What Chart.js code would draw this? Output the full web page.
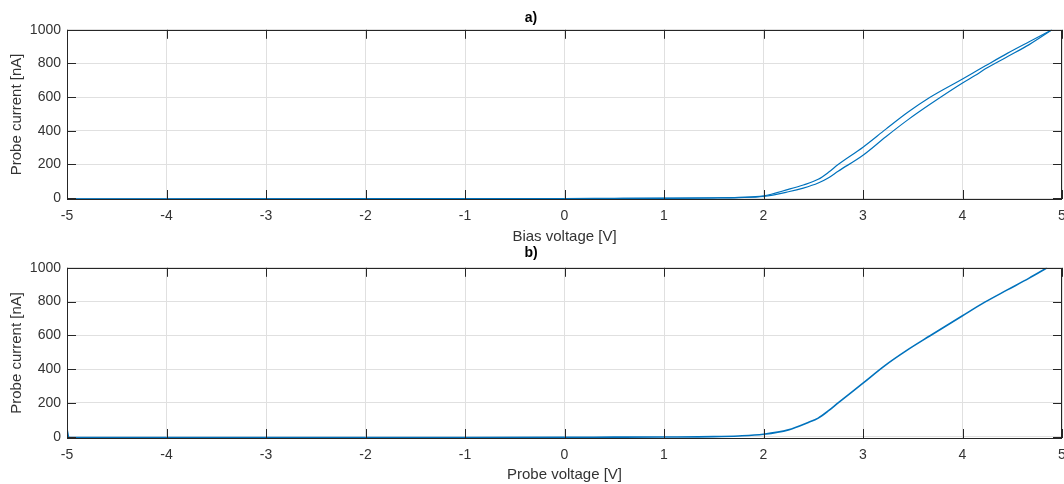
<!DOCTYPE html>
<html>
<head>
<meta charset="utf-8">
<script src="https://cdn.jsdelivr.net/npm/chart.js@4.4.1/dist/chart.umd.min.js"></script>
<style>
    body { margin: 0; background: #fff; }
    .panel { position: absolute; left: 0; width: 1064px; }
    #panelA { top: 0; height: 246px; }
    #panelB { top: 242px; height: 242px; }
</style>
</head>
<body>
<div class="panel" id="panelA"><canvas id="sweepChart" width="1064" height="246"></canvas></div>
<div class="panel" id="panelB"><canvas id="probeChart" width="1064" height="242"></canvas></div>
<script>
// a) bias sweep, the two branches of the hysteresis loop
const biasVoltage = [-5, -4, -3, -2, -1, 0, 0.5, 1, 1.5, 1.75, 2.0, 2.25, 2.4, 2.55, 2.65, 2.75, 3.0, 3.23, 3.45, 3.67, 4.0, 4.13, 4.23, 4.45, 4.67, 4.9];
const currentBranchA = [-4, -4, -4, -3, -3, -2, -1, 0, 2, 5, 14, 52, 78, 112, 152, 200, 303, 410, 510, 598, 708, 752, 786, 860, 929, 1000];
const currentBranchB = [-5, -5, -4, -4, -3, -3, -2, -1, 1, 3, 10, 38, 60, 90, 120, 160, 255, 365, 465, 556, 684, 730, 768, 840, 912, 1000];

// b) corrected probe voltage
const probeVoltage = [-5, -4.98, -4, -3, -2, -1, 0, 0.5, 1, 1.5, 1.75, 2.0, 2.25, 2.45, 2.55, 2.65, 2.75, 3.0, 3.22, 3.44, 3.67, 4.0, 4.22, 4.45, 4.67, 4.85];
const probeCurrent = [45, -6, -6, -6, -5, -5, -4, -3, -2, 0, 4, 14, 40, 84, 110, 152, 200, 317, 421, 511, 596, 716, 795, 869, 939, 1000];

const xTicks = [-5, -4, -3, -2, -1, 0, 1, 2, 3, 4, 5];
const yTicks = [0, 200, 400, 600, 800, 1000];

const LINE_COLOR = '#0072BD';
const TEXT_COLOR = '#333333';
const FONT = '"Liberation Sans", Arial, sans-serif';

function toPoints(xs, ys) {
    let pts = [];
    for (let i = 0; i < xs.length; i++) {
        pts.push({x: xs[i], y: ys[i]});
    }
    return pts;
}

/* box around the axes with inward tick marks, like matlab */
const matlabBox = {
    id: 'matlabBox',
    afterDatasetsDraw(chart) {
        const ctx = chart.ctx;
        const a = chart.chartArea;
        const x = chart.scales.x;
        const y = chart.scales.y;
        const len = 9;
        ctx.save();
        ctx.strokeStyle = '#262626';
        ctx.lineWidth = 1;
        ctx.beginPath();
        x.ticks.forEach(function (t) {
            let px = Math.round(x.getPixelForValue(t.value)) + 0.5;
            ctx.moveTo(px, a.bottom); ctx.lineTo(px, a.bottom - len);
            ctx.moveTo(px, a.top); ctx.lineTo(px, a.top + len);
        });
        y.ticks.forEach(function (t) {
            let py = Math.round(y.getPixelForValue(t.value)) + 0.5;
            ctx.moveTo(a.left, py); ctx.lineTo(a.left + len, py);
            ctx.moveTo(a.right, py); ctx.lineTo(a.right - len, py);
        });
        ctx.stroke();
        ctx.strokeRect(Math.round(a.left) + 0.5, Math.round(a.top) + 0.5,
            Math.round(a.right - a.left) - 1, Math.round(a.bottom - a.top));
        ctx.restore();
    }
};

function makeChart(canvasId, datasets, opts) {
    const ctx = document.getElementById(canvasId).getContext('2d');
    return new Chart(ctx, {
        type: 'line',
        data: {datasets: datasets},
        options: {
            responsive: false,
            animation: false,
            layout: {padding: {left: 0, right: 2, top: 0, bottom: 0}},
            plugins: {
                legend: {display: false},
                tooltip: {enabled: false},
                title: {
                    display: true,
                    text: opts.title,
                    color: '#000',
                    font: {family: FONT, size: 14, weight: 'bold', lineHeight: 1.2},
                    padding: opts.titlePadding
                }
            },
            elements: {point: {radius: 0}},
            scales: {
                x: {
                    type: 'linear',
                    min: -5,
                    max: 5,
                    afterBuildTicks: function (scale) {
                        scale.ticks = xTicks.map(function (v) { return {value: v}; });
                    },
                    afterFit: function (scale) {
                        scale.height = opts.xAxisHeight;
                        scale.paddingLeft = 0;
                        scale.paddingRight = 0;
                    },
                    grid: {color: '#e0e0e0', drawTicks: false},
                    border: {display: false},
                    ticks: {
                        color: TEXT_COLOR, padding: 9, maxRotation: 0, autoSkip: false,
                        font: {family: FONT, size: 14},
                        callback: function (v) { return String(v); }
                    },
                    title: {
                        display: true,
                        text: opts.xTitle,
                        color: TEXT_COLOR,
                        padding: {top: 0, bottom: 0},
                        font: {family: FONT, size: 15, lineHeight: 1.2}
                    }
                },
                y: {
                    min: opts.yMin,
                    max: 1000,
                    afterBuildTicks: function (scale) {
                        scale.ticks = yTicks.map(function (v) { return {value: v}; });
                    },
                    afterFit: function (scale) {
                        scale.width = 67;
                    },
                    grid: {color: '#e0e0e0', drawTicks: false},
                    border: {display: false},
                    ticks: {
                        color: TEXT_COLOR, padding: 6,
                        font: {family: FONT, size: 14},
                        callback: function (v) { return String(v); }
                    },
                    title: {
                        display: true,
                        text: 'Probe current [nA]',
                        color: TEXT_COLOR,
                        padding: {top: 8, bottom: 0},
                        font: {family: FONT, size: 15, lineHeight: 1.2}
                    }
                }
            }
        },
        plugins: [matlabBox]
    });
}

makeChart('sweepChart', [
    {
        label: 'Branch A',
        data: toPoints(biasVoltage, currentBranchA),
        borderColor: LINE_COLOR,
        borderWidth: 1.2,
        cubicInterpolationMode: 'monotone',
        fill: false
    },
    {
        label: 'Branch B',
        data: toPoints(biasVoltage, currentBranchB),
        borderColor: LINE_COLOR,
        borderWidth: 1.2,
        cubicInterpolationMode: 'monotone',
        fill: false
    }
], {
    title: 'a)',
    titlePadding: {top: 10, bottom: 3},
    xTitle: 'Bias voltage [V]',
    xAxisHeight: 47,
    yMin: -5
});

makeChart('probeChart', [
    {
        label: 'Probe',
        data: toPoints(probeVoltage, probeCurrent),
        borderColor: LINE_COLOR,
        borderWidth: 1.6,
        cubicInterpolationMode: 'monotone',
        fill: false
    }
], {
    title: 'b)',
    titlePadding: {top: 3, bottom: 6},
    xTitle: 'Probe voltage [V]',
    xAxisHeight: 46,
    yMin: -8
});
</script>
</body>
</html>
